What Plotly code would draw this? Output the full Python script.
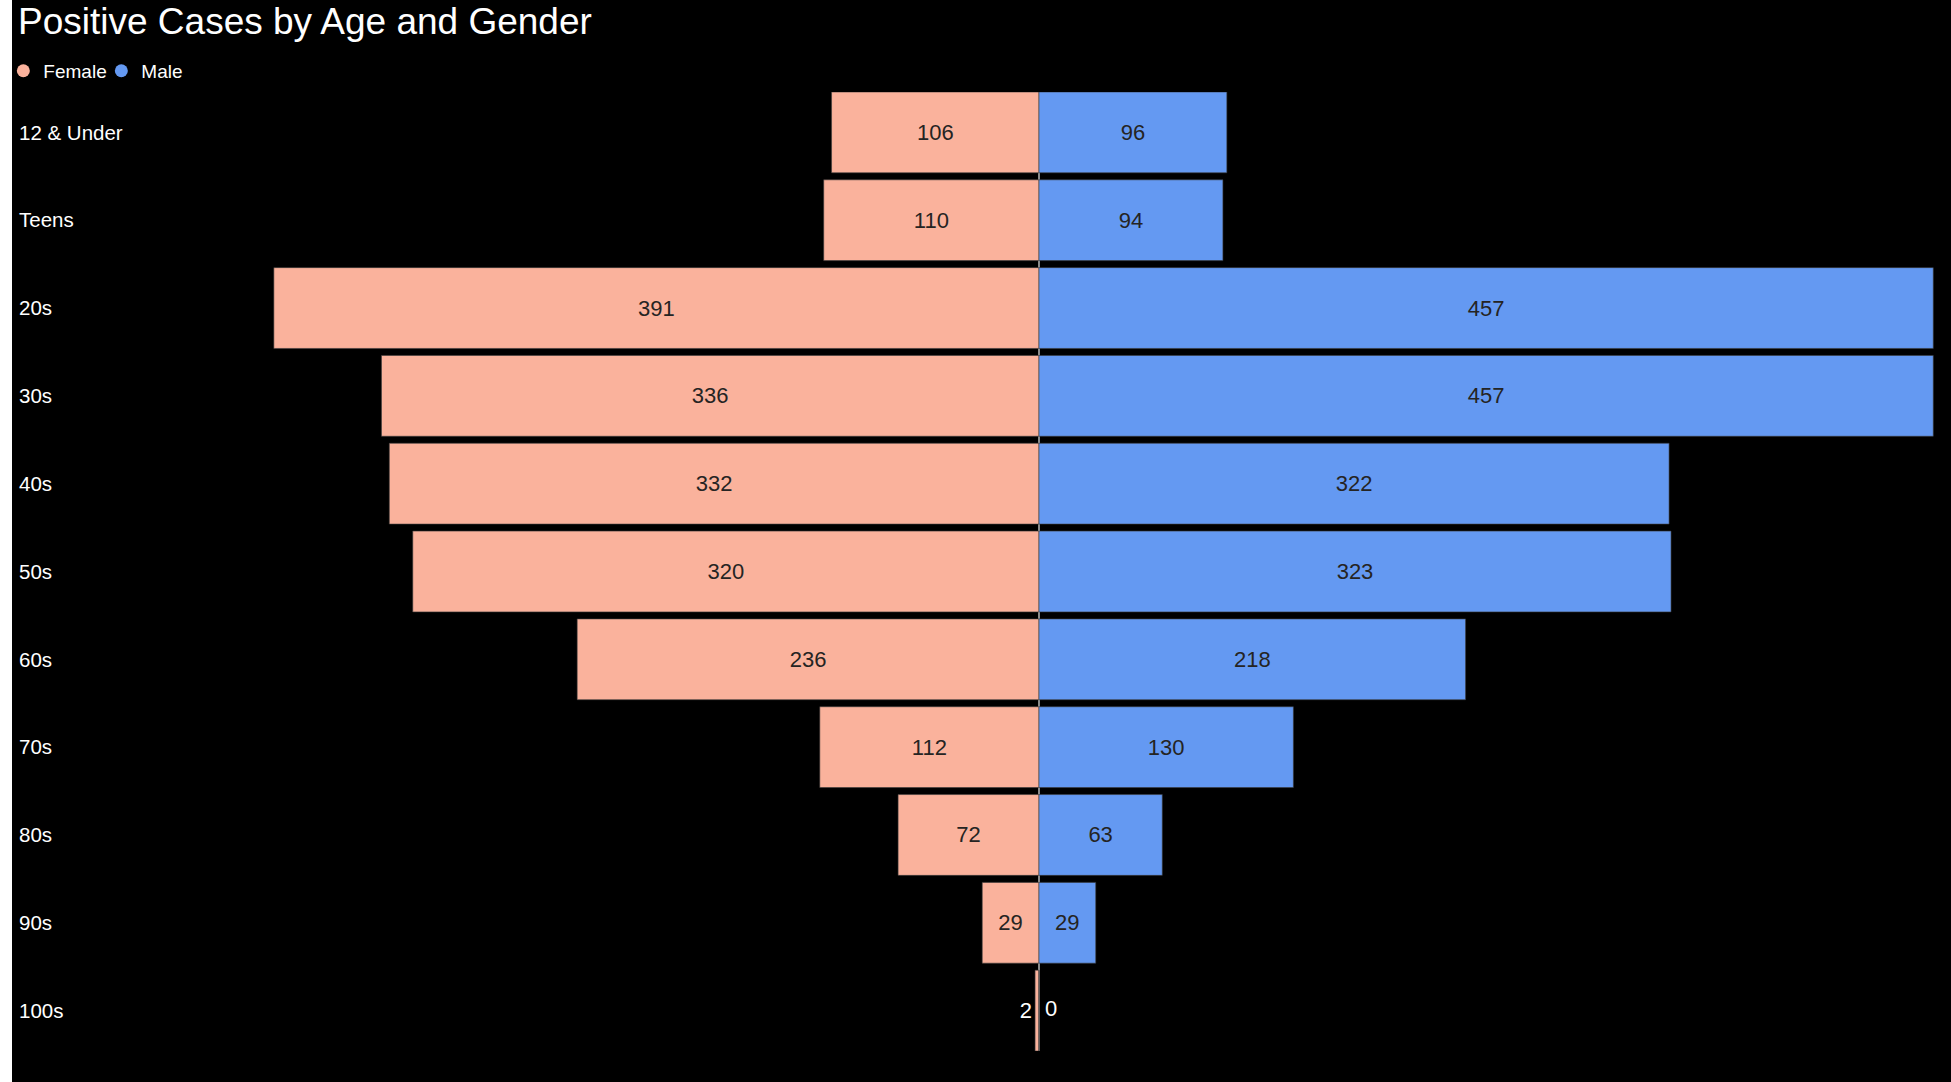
import plotly.graph_objects as go

age_groups = ["12 & Under", "Teens", "20s", "30s", "40s", "50s", "60s", "70s", "80s", "90s", "100s"]
female_cases = [106, 110, 391, 336, 332, 320, 236, 112, 72, 29, 2]
male_cases = [96, 94, 457, 457, 322, 323, 218, 130, 63, 29, 0]

FEMALE_COLOR = "#FAB29C"
MALE_COLOR = "#6499F2"
FONT = "Liberation Sans, Arial, sans-serif"
LABEL_SIZE = 22
BAR_GAP = 0.08

fig = go.Figure()

fig.add_trace(go.Bar(
    y=age_groups, x=[-v for v in female_cases], text=[str(v) for v in female_cases],
    orientation="h", name="Female", showlegend=False,
    marker=dict(color=FEMALE_COLOR, line=dict(color="rgba(60,60,60,0.6)", width=1)),
    textposition="auto", insidetextanchor="middle", textangle=0, constraintext="none",
    insidetextfont=dict(color="#252423", size=LABEL_SIZE, family=FONT),
    outsidetextfont=dict(color="#FFFFFF", size=LABEL_SIZE, family=FONT),
    hovertemplate="%{y}<br>Female: %{text}<extra></extra>",
))
fig.add_trace(go.Bar(
    y=age_groups, x=male_cases, text=[str(v) for v in male_cases],
    orientation="h", name="Male", showlegend=False,
    marker=dict(color=MALE_COLOR, line=dict(color="rgba(60,60,60,0.6)", width=1)),
    textposition="auto", insidetextanchor="middle", textangle=0, constraintext="none",
    insidetextfont=dict(color="#252423", size=LABEL_SIZE, family=FONT),
    outsidetextfont=dict(color="#FFFFFF", size=LABEL_SIZE, family=FONT),
    hovertemplate="%{y}<br>Male: %{text}<extra></extra>",
))

# labels for zero-length bars (Plotly drops bar text when the bar has no length)
zero_idx = [i for i, v in enumerate(male_cases) if v == 0]
fig.add_trace(go.Scatter(
    x=[male_cases[i] for i in zero_idx], y=[age_groups[i] for i in zero_idx],
    text=[str(male_cases[i]) for i in zero_idx], texttemplate="\u00a0%{text}",
    mode="text", textposition="middle right",
    textfont=dict(color="#FFFFFF", size=LABEL_SIZE, family=FONT),
    showlegend=False, hoverinfo="skip",
))

# legend entries with circular symbols
for name, col in [("Female", FEMALE_COLOR), ("Male", MALE_COLOR)]:
    fig.add_trace(go.Scatter(x=[None], y=[None], mode="markers", name=name,
                             marker=dict(symbol="circle", size=13, color=col)))

n = len(age_groups)
half = (1 - BAR_GAP) / 2

fig.update_layout(
    width=1939, height=1082,
    paper_bgcolor="#000000", plot_bgcolor="#000000",
    margin=dict(l=1, r=6, t=92, b=31, autoexpand=False),
    barmode="overlay", bargap=BAR_GAP,
    font=dict(family=FONT, color="#FFFFFF"),
    title=dict(text="Positive Cases by Age and Gender", x=6 / 1939, xanchor="left",
               xref="container", y=1 - 21 / 1082, yanchor="middle", yref="container",
               font=dict(size=37, color="#FFFFFF", family=FONT)),
    legend=dict(orientation="h", x=-0.005, xanchor="left", y=1.022, yanchor="middle",
                font=dict(size=19, color="#FFFFFF", family=FONT),
                itemwidth=30, entrywidth=53, entrywidthmode="pixels",
                tracegroupgap=0, bgcolor="rgba(0,0,0,0)"),
    xaxis=dict(range=[-524.3, 463.0], showgrid=False, showticklabels=False, ticks="",
               zeroline=True, zerolinecolor="#8a8a8a", zerolinewidth=2, showline=False,
               layer="above traces", fixedrange=True, automargin=False),
    yaxis=dict(range=[n - 1 + half, -half], showgrid=False, zeroline=False, showline=False,
               ticks="", ticklabelposition="inside", ticklabelstandoff=3, automargin=False,
               tickfont=dict(size=20.5, color="#FFFFFF", family=FONT), fixedrange=True),
    showlegend=True,
)

fig.write_html("out.html",
               post_script="document.body.style.margin='0';document.body.style.paddingLeft='12px';document.body.style.background='#ffffff';document.body.style.overflow='hidden';",
               config={"displayModeBar": False})
